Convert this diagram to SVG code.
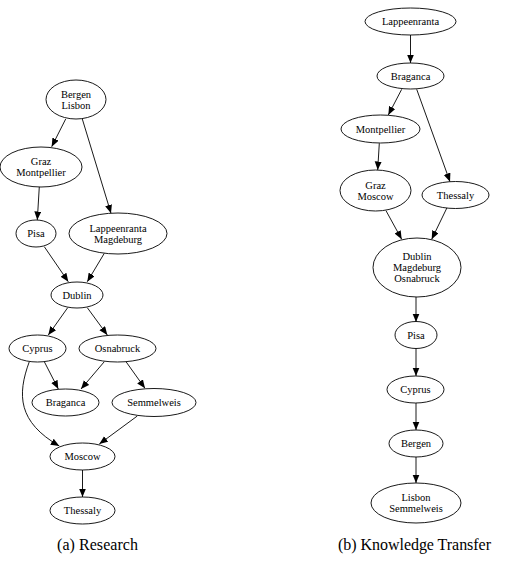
<svg xmlns="http://www.w3.org/2000/svg" width="505" height="571" viewBox="0 0 505 571">
<style>
.n ellipse{fill:#fff;stroke:#000;stroke-width:0.9}
.n text{font-family:"Liberation Serif",serif;font-size:10.5px;text-anchor:middle;fill:#000}
.e path{fill:none;stroke:#000;stroke-width:0.9;marker-end:url(#ah)}
.cap{font-family:"Liberation Serif",serif;font-size:16px;text-anchor:middle;fill:#000}
</style>
<defs>
<marker id="ah" markerUnits="userSpaceOnUse" markerWidth="9" markerHeight="8" refX="8.5" refY="3.5" orient="auto">
<path d="M0,0 L8.5,3.5 L0,7 z" fill="#000"/>
</marker>
</defs>
<g id="edges" class="e">
<path d="M65.7,119 L51.7,146.7"/>
<path d="M82.3,119 L111,213.3"/>
<path d="M39.3,186.7 L37.3,220"/>
<path d="M44.3,246.7 L68.3,281.7"/>
<path d="M104.3,253.3 L87.3,281.7"/>
<path d="M67.7,307.7 L48.3,335"/>
<path d="M87.3,307.7 L107.3,335"/>
<path d="M44.3,361.7 L58.3,389"/>
<path d="M104.3,361.7 L81,389"/>
<path d="M126,361.7 L145,388.3"/>
<path d="M29.3,361.7 C17,395 18,422 59.3,446"/>
<path d="M137.3,416 L99.3,444"/>
<path d="M82.5,470 L82.5,497"/>
<path d="M410.5,35 L410.5,63"/>
<path d="M401.7,89.3 L388.3,115"/>
<path d="M416.7,89.3 L450,181.7"/>
<path d="M379.3,143.3 L377.7,170"/>
<path d="M386,210.7 L401.7,239.3"/>
<path d="M448.3,205 L431.7,239.3"/>
<path d="M416,297 L416,322"/>
<path d="M416,348 L416,376"/>
<path d="M416,403 L416,430"/>
<path d="M416,457 L416,483"/>
</g>
<g id="a_bergen_lisbon" class="n"><ellipse cx="76" cy="99.5" rx="30" ry="19.5"/><text x="76" y="97.5">Bergen</text><text x="76" y="108.5">Lisbon</text></g>
<g id="a_graz_montpellier" class="n"><ellipse cx="41" cy="167" rx="41" ry="20"/><text x="41" y="165">Graz</text><text x="41" y="176">Montpellier</text></g>
<g id="a_pisa" class="n"><ellipse cx="36" cy="233.5" rx="20" ry="13.5"/><text x="36" y="237">Pisa</text></g>
<g id="a_lappeenranta_magdeburg" class="n"><ellipse cx="118" cy="233.5" rx="49" ry="20.5"/><text x="118" y="231.5">Lappeenranta</text><text x="118" y="242.5">Magdeburg</text></g>
<g id="a_dublin" class="n"><ellipse cx="77" cy="295" rx="26" ry="13"/><text x="77" y="298.5">Dublin</text></g>
<g id="a_cyprus" class="n"><ellipse cx="37.5" cy="348.5" rx="28.5" ry="13.5"/><text x="37.5" y="352">Cyprus</text></g>
<g id="a_osnabruck" class="n"><ellipse cx="117.5" cy="348.5" rx="38.5" ry="13.5"/><text x="117.5" y="352">Osnabruck</text></g>
<g id="a_braganca" class="n"><ellipse cx="65.5" cy="402.5" rx="33.5" ry="13.5"/><text x="65.5" y="406">Braganca</text></g>
<g id="a_semmelweis" class="n"><ellipse cx="154" cy="402.5" rx="42" ry="14"/><text x="154" y="406">Semmelweis</text></g>
<g id="a_moscow" class="n"><ellipse cx="82.5" cy="456.5" rx="32.5" ry="13.5"/><text x="82.5" y="460">Moscow</text></g>
<g id="a_thessaly" class="n"><ellipse cx="82.5" cy="510.5" rx="32.5" ry="13.5"/><text x="82.5" y="514">Thessaly</text></g>
<g id="b_lappeenranta" class="n"><ellipse cx="410.5" cy="21.5" rx="45.5" ry="13.5"/><text x="410.5" y="25">Lappeenranta</text></g>
<g id="b_braganca" class="n"><ellipse cx="410.5" cy="76" rx="33.5" ry="13"/><text x="410.5" y="79.5">Braganca</text></g>
<g id="b_montpellier" class="n"><ellipse cx="380.5" cy="129" rx="39.5" ry="14"/><text x="380.5" y="132.5">Montpellier</text></g>
<g id="b_graz_moscow" class="n"><ellipse cx="375.5" cy="190.5" rx="35.5" ry="20.5"/><text x="375.5" y="188.5">Graz</text><text x="375.5" y="199.5">Moscow</text></g>
<g id="b_thessaly" class="n"><ellipse cx="455.5" cy="195" rx="33.5" ry="13.5"/><text x="455.5" y="198.5">Thessaly</text></g>
<g id="b_dublin_magdeburg_osnabruck" class="n"><ellipse cx="417" cy="267.5" rx="44" ry="29.5"/><text x="417" y="260">Dublin</text><text x="417" y="271">Magdeburg</text><text x="417" y="282">Osnabruck</text></g>
<g id="b_pisa" class="n"><ellipse cx="416" cy="335" rx="21" ry="13.5"/><text x="416" y="338.5">Pisa</text></g>
<g id="b_cyprus" class="n"><ellipse cx="415.5" cy="389.5" rx="28.5" ry="13.5"/><text x="415.5" y="393">Cyprus</text></g>
<g id="b_bergen" class="n"><ellipse cx="416" cy="443.5" rx="27" ry="13.5"/><text x="416" y="447">Bergen</text></g>
<g id="b_lisbon_semmelweis" class="n"><ellipse cx="416" cy="503" rx="45" ry="20"/><text x="416" y="501">Lisbon</text><text x="416" y="512">Semmelweis</text></g>
<text class="cap" x="97.5" y="550" textLength="81" lengthAdjust="spacing">(a) Research</text>
<text class="cap" x="414.5" y="550" textLength="153" lengthAdjust="spacing">(b) Knowledge Transfer</text>
</svg>
